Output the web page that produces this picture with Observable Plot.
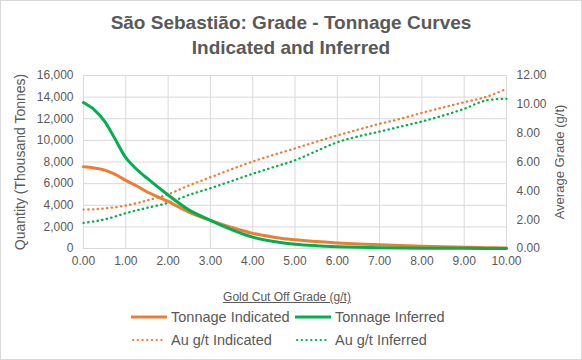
<!DOCTYPE html>
<html><head><meta charset="utf-8">
<script src="https://cdn.jsdelivr.net/npm/d3@7"></script>
<script src="https://cdn.jsdelivr.net/npm/@observablehq/plot@0.6"></script>
<style>
body{margin:0;background:#fff;}
#chart{position:relative;width:582px;height:360px;box-sizing:border-box;border:1px solid #d9d9d9;font-family:"Liberation Sans",Arial,sans-serif;color:#595959;overflow:hidden;background:#fff;}
#title{position:absolute;top:9px;left:0;width:580px;text-align:center;font-weight:bold;font-size:19px;line-height:25px;}
#plot{position:absolute;top:63px;left:0;}
.ytitle{position:absolute;white-space:nowrap;transform:translate(-50%,-50%) rotate(-90deg);}
#xtitle{position:absolute;top:288px;left:-4px;width:580px;text-align:center;font-size:12px;line-height:16px;text-decoration:underline;}
.leg{position:absolute;font-size:14.5px;line-height:18px;display:flex;align-items:center;white-space:nowrap;}
.leg svg{margin-right:4px;}
</style></head>
<body>
<div id="chart">
  <div id="title">São Sebastião: Grade - Tonnage Curves<br>Indicated and Inferred</div>
  <div id="plot"></div>
  <div class="ytitle" style="left:19px;top:161px;font-size:14px;">Quantity (Thousand Tonnes)</div>
  <div class="ytitle" style="left:558px;top:161px;font-size:13px;">Average Grade (g/t)</div>
  <div id="xtitle">Gold Cut Off Grade (g/t)</div>
  <div id="legend"></div>
</div>
<script>
const cutoff       = [0, 0.25, 0.5, 0.75, 1, 1.25, 1.5, 2, 2.5, 3, 3.5, 4, 4.5, 5, 5.5, 6, 6.5, 7, 7.5, 8, 8.5, 9, 9.5, 10];
const tonIndicated = [7550, 7450, 7250, 6850, 6300, 5800, 5250, 4350, 3350, 2600, 1950, 1400, 1050, 800, 640, 520, 420, 340, 270, 210, 160, 120, 80, 50];
const tonInferred  = [13500, 12850, 11750, 10100, 8400, 7350, 6500, 4950, 3550, 2600, 1750, 1050, 650, 400, 260, 170, 110, 70, 45, 30, 20, 15, 10, 5];
const auIndicated  = [2.70, 2.72, 2.78, 2.86, 2.98, 3.14, 3.33, 3.76, 4.38, 4.94, 5.50, 6.03, 6.50, 6.94, 7.40, 7.84, 8.25, 8.65, 9.00, 9.41, 9.78, 10.15, 10.50, 11.07];
const auInferred   = [1.78, 1.88, 2.02, 2.22, 2.45, 2.64, 2.82, 3.17, 3.72, 4.18, 4.68, 5.18, 5.65, 6.12, 6.75, 7.37, 7.78, 8.11, 8.46, 8.81, 9.22, 9.69, 10.26, 10.38];
const xTicks     = [0, 1, 2, 3, 4, 5, 6, 7, 8, 9, 10];
const tonTicks   = [0, 2000, 4000, 6000, 8000, 10000, 12000, 14000, 16000];
const gradeTicks = [0, 2, 4, 6, 8, 10, 12];
const seriesNames = ["Tonnage Indicated", "Tonnage Inferred", "Au g/t Indicated", "Au g/t Inferred"];

const ORANGE = "#ED7D31", GREEN = "#00B050";
const TON_MAX = 16000, GRADE_MAX = 12, K = TON_MAX / GRADE_MAX;

const rows = cutoff.map((c, i) => ({c, ti: tonIndicated[i], tf: tonInferred[i], ai: auIndicated[i] * K, af: auInferred[i] * K}));
const DOT_DASH = "0.4,4.3";
const dots = {strokeDasharray: DOT_DASH, strokeWidth: 2.3, strokeLinecap: "round"};

const chart = Plot.plot({
  width: 580, height: 212,
  marginTop: 11, marginBottom: 28, marginLeft: 82, marginRight: 75,
  style: {fontFamily: "'Liberation Sans', Arial, sans-serif", fontSize: "12px", color: "#595959", background: "transparent"},
  x: {domain: [0, 10]},
  y: {domain: [0, TON_MAX]},
  marks: [
    Plot.gridX(xTicks, {stroke: "#d9d9d9", strokeOpacity: 1}),
    Plot.gridY(tonTicks, {stroke: "#d9d9d9", strokeOpacity: 1}),
    Plot.axisX(xTicks, {tickSize: 0, tickPadding: 8, tickFormat: d => d.toFixed(2), label: null}),
    Plot.axisY(tonTicks, {anchor: "left", tickSize: 0, tickPadding: 10, tickFormat: d3.format(","), label: null}),
    Plot.axisY(gradeTicks.map(v => v * K), {anchor: "right", tickSize: 0, tickPadding: 10, tickFormat: d => (d / K).toFixed(2), label: null}),
    Plot.line(rows, {x: "c", y: "ai", stroke: ORANGE, curve: "catmull-rom", ...dots}),
    Plot.line(rows, {x: "c", y: "af", stroke: GREEN, curve: "catmull-rom", ...dots}),
    Plot.line(rows, {x: "c", y: "ti", stroke: ORANGE, strokeWidth: 3, curve: "catmull-rom"}),
    Plot.line(rows, {x: "c", y: "tf", stroke: GREEN, strokeWidth: 3, curve: "catmull-rom"})
  ]
});
document.getElementById("plot").appendChild(chart);

const legendDefs = [
  {name: seriesNames[0], color: ORANGE, dash: null, left: 130, top: 307},
  {name: seriesNames[1], color: GREEN, dash: null, left: 294, top: 307},
  {name: seriesNames[2], color: ORANGE, dash: DOT_DASH, left: 130, top: 330},
  {name: seriesNames[3], color: GREEN, dash: DOT_DASH, left: 294, top: 330}
];
const lg = document.getElementById("legend");
for (const d of legendDefs) {
  const el = document.createElement("div");
  el.className = "leg";
  el.style.left = d.left + "px";
  el.style.top = d.top + "px";
  const attrs = d.dash ? `stroke-width="2" stroke-dasharray="${d.dash}" stroke-linecap="round"` : `stroke-width="3"`;
  el.innerHTML = `<svg width="36" height="6"><line x1="${d.dash ? 2 : 0}" y1="3" x2="${d.dash ? 34 : 36}" y2="3" stroke="${d.color}" ${attrs}/></svg><span>${d.name}</span>`;
  lg.appendChild(el);
}
</script>
</body></html>
